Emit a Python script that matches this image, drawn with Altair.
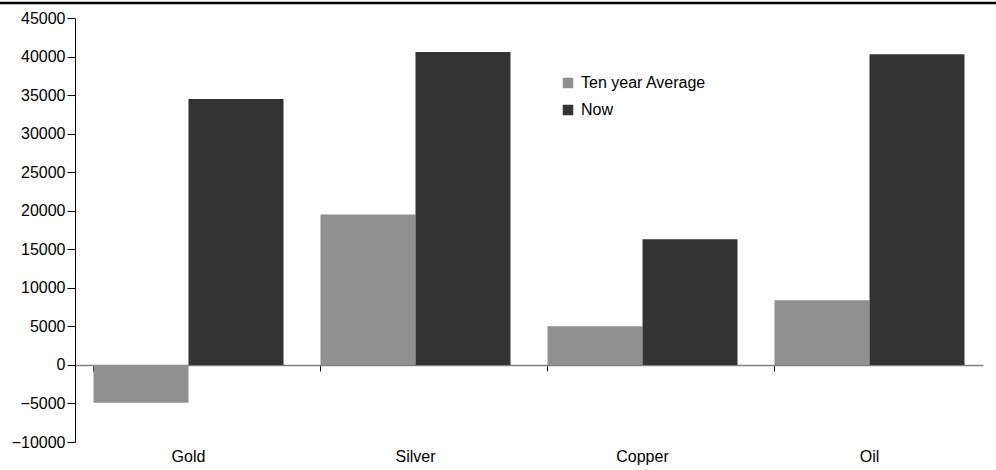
import altair as alt
import pandas as pd

# Commodity comparison: ten-year average versus current level
commodities = ["Gold", "Silver", "Copper", "Oil"]
ten_year_average = [-4900, 19500, 5000, 8400]
now = [34500, 40600, 16300, 40300]
series_names = ["Ten year Average", "Now"]
series_colors = ["#909090", "#333333"]
y_ticks = [-10000, -5000, 0, 5000, 10000, 15000, 20000, 25000, 30000, 35000, 40000, 45000]

rows = []
for i, c in enumerate(commodities):
    rows.append({"commodity": c, "series": series_names[0], "value": ten_year_average[i]})
    rows.append({"commodity": c, "series": series_names[1], "value": now[i]})
df = pd.DataFrame(rows)

W, H = 908, 424
FONT = "Liberation Sans"
FS = 16

bars = alt.Chart(df).mark_bar().encode(
    x=alt.X(
        "commodity:N",
        sort=commodities,
        scale=alt.Scale(paddingInner=0.163, paddingOuter=0.0815),
        axis=alt.Axis(
            title=None,
            labelAngle=0,
            orient="bottom",
            offset=-77,
            bandPosition=0,
            domainColor="#808080",
            domainWidth=1.5,
            tickColor="#000000",
            tickSize=6,
            labelPadding=77,
            labelFont=FONT,
            labelFontSize=FS,
            labelColor="#000000",
        ),
    ),
    xOffset=alt.XOffset("series:N", sort=series_names, scale=alt.Scale(paddingInner=0, paddingOuter=0)),
    y=alt.Y(
        "value:Q",
        scale=alt.Scale(domain=[-10000, 45000], nice=False, zero=False),
        axis=alt.Axis(
            title=None,
            values=y_ticks,
            format="d",
            grid=False,
            domainColor="#000000",
            tickColor="#000000",
            tickSize=8,
            labelPadding=2,
            labelFont=FONT,
            labelFontSize=FS,
            labelColor="#000000",
        ),
    ),
    color=alt.Color(
        "series:N",
        sort=series_names,
        scale=alt.Scale(domain=series_names, range=series_colors),
        legend=alt.Legend(
            title=None,
            orient="none",
            legendX=485,
            legendY=57,
            symbolType="square",
            symbolSize=110,
            symbolStrokeWidth=0,
            labelFont=FONT,
            labelFontSize=FS,
            labelColor="#000000",
            rowPadding=11,
            labelOffset=5,
            padding=0,
        ),
    ),
)

# Heavy rule along the top edge of the page
top_rule = alt.Chart(pd.DataFrame({"k": [0]})).mark_rule(color="#000000", strokeWidth=2.5).encode(
    x=alt.value(-75), x2=alt.value(W + 13), y=alt.value(-15)
)

chart = alt.layer(bars, top_rule).properties(
    width=W,
    height=H,
    background="#ffffff",
    autosize=alt.AutoSizeParams(type="none"),
    padding={"left": 75, "top": 18, "right": 13, "bottom": 28},
).configure_view(strokeWidth=0, stroke=None)

chart.save("out.html", embed_options={"renderer": "svg", "actions": False})
